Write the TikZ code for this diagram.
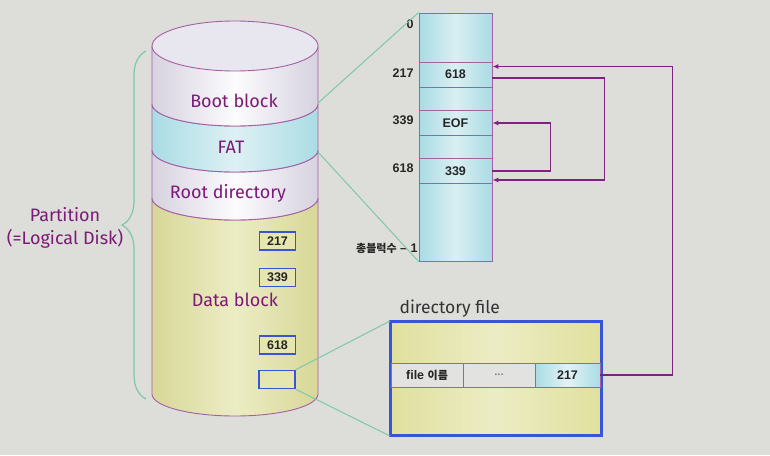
\documentclass[tikz,border=0pt]{standalone}
\usepackage{fontspec}
\setmainfont{Fira Sans}
\newfontfamily\numfont{Liberation Sans}
\newfontfamily\kofont{Noto Sans CJK KR Bold}
\usetikzlibrary{arrows.meta,decorations.pathreplacing}
\definecolor{bg}{RGB}{221,221,217}
\definecolor{rim}{RGB}{165,95,165}
\definecolor{ink}{RGB}{125,25,120}
\definecolor{linkc}{RGB}{125,35,125}
\definecolor{zoomc}{RGB}{125,200,175}
\definecolor{fatc}{RGB}{170,220,228}
\definecolor{datac}{RGB}{224,224,158}
\definecolor{bootc}{RGB}{214,210,224}
\definecolor{boxblue}{RGB}{55,85,215}
\definecolor{rowc}{RGB}{226,226,224}
\tikzset{
  lbl/.style   ={font=\fontsize{18}{23}\selectfont, text=ink, align=center},
  dlbl/.style  ={font=\fontsize{17.5}{20}\selectfont, text=black!80},
  num/.style   ={font=\numfont\bfseries\fontsize{12.5}{14}\selectfont, text=black!85},
  band/.style  ={draw=rim, line width=0.9pt},
  fatcol/.style={draw=rim, line width=0.9pt, minimum width=73pt, minimum height=248pt, inner sep=0pt,
                 left color=fatc, right color=fatc, middle color=fatc!45!white},
  fatrow/.style={draw=rim, line width=0.8pt, minimum width=73pt, minimum height=25pt, inner sep=0pt, num},
  dbox/.style  ={draw=boxblue, line width=1.6pt, fill=datac!80!white, minimum width=36pt, minimum height=18pt, inner sep=0pt, num},
  dirbox/.style={draw=boxblue, line width=2pt, minimum width=210pt, minimum height=113pt, inner sep=0pt,
                 left color=datac, right color=datac, middle color=datac!60!white},
  drow/.style  ={draw=rim, line width=0.8pt, fill=rowc, minimum height=24pt, inner sep=0pt, num},
  link/.style  ={draw=linkc, line width=1.6pt, -{Latex[length=6pt,width=5pt]}},
  zoomln/.style={draw=zoomc, line width=1pt},
}

\begin{document}
\begin{tikzpicture}[x=1pt, y=1pt]
  \useasboundingbox (0,0) rectangle (770,-455);
  \fill[bg] (0,0) rectangle (770,-455);

  % disk
  \path[band, left color=datac!96!black, right color=datac!96!black, middle color=datac!60!white]
    (152,-198) -- (152,-394) arc[start angle=180, end angle=360, x radius=83, y radius=22]
    -- (318,-198) arc[start angle=0, end angle=-180, x radius=83, y radius=22] -- cycle;
  \path[band, left color=bootc, right color=bootc, middle color=white!92!bootc]
    (152,-150) -- (152,-198) arc[start angle=180, end angle=360, x radius=83, y radius=22]
    -- (318,-150) arc[start angle=0, end angle=-180, x radius=83, y radius=22] -- cycle;
  \path[band, left color=fatc, right color=fatc, middle color=fatc!40!white]
    (152,-104) -- (152,-150) arc[start angle=180, end angle=360, x radius=83, y radius=22]
    -- (318,-104) arc[start angle=0, end angle=-180, x radius=83, y radius=22] -- cycle;
  \path[band, left color=bootc, right color=bootc, middle color=white!92!bootc]
    (152,-46) -- (152,-104) arc[start angle=180, end angle=360, x radius=83, y radius=22]
    -- (318,-46) arc[start angle=0, end angle=-180, x radius=83, y radius=22] -- cycle;
  \path[band, fill=bootc!55!white] (235,-46) ellipse [x radius=83, y radius=25];

  \node[lbl] (boot) at (234,-101) {Boot block};
  \node[lbl] (fatl) at (231,-147) {FAT};
  \node[lbl] (root) at (228,-193) {Root directory};
  \node[lbl] (data) at (235,-300) {Data block};

  \node[dbox] (b217) at (277.5,-241) {217};
  \node[dbox] (b339) at (277.5,-277.5) {339};
  \node[dbox] (b618) at (277.5,-345) {618};
  \node[dbox] (bnull) at (277,-379.5) {};

  \coordinate (fattop) at (318,-103);
  \coordinate (fatbot) at (318,-152);

  % partition brace
  \coordinate (ptop) at (146,-51);
  \coordinate (pbot) at (146,-399);
  \draw[zoomln, line width=1.2pt, decorate, decoration={brace, amplitude=24pt}] (pbot) -- (ptop);
  \node[lbl] (part) at (65,-228) {Partition\\(=Logical Disk)};

  % FAT table
  \node[fatcol] (fat) at (455.5,-137) {};
  \node[fatrow] (f217) at (455.5,-74.5) {618};
  \node[fatrow] (f339) at (455.5,-123) {EOF};
  \node[fatrow] (f618) at (455.5,-171) {339};

  \node[num, anchor=east] (n0) at (417,-24) {0};
  \node[num, anchor=east] (n217) at (417,-73) {217};
  \node[num, anchor=east] (n339) at (417,-120) {339};
  \node[num, anchor=east] (n618) at (417,-168) {618};
  \node[num, anchor=east] (nlast) at (421,-248) {{\kofont\fontsize{11}{13}\selectfont 총블럭수} – 1};

  \draw[zoomln] (fattop) -- (fat.north west);
  \draw[zoomln] (fatbot) -- (fat.south west);

  % directory file
  \node[dirbox] (dirf) at (496,-378.5) {};
  \node[dlbl, anchor=base west] (dirl) at (396,-313) {directory file};
  \node[drow, minimum width=72pt] (dname) at (427,-375) {file {\kofont\fontsize{11}{13}\selectfont 이름}};
  \node[drow, minimum width=72pt, font=\fontsize{13}{15}\selectfont, text=black!50] (ddots) at (499,-375) {...};
  \node[drow, minimum width=65pt, left color=fatc, right color=fatc, middle color=fatc!35!white] (d217) at (567.5,-375) {217};
  \draw[boxblue, line width=2pt] (dirf.north west) rectangle (dirf.south east);

  \draw[zoomln] (bnull.north east) -- (dirf.north west);
  \draw[zoomln] (bnull.south east) -- (dirf.south west);

  \draw[link] (d217.east) -- ++(72,0) |- ([yshift=8pt]f217.east);
  \draw[link] ([yshift=-3.5pt]f217.east) -- ++(112,0) |- ([yshift=-9pt]f618.east);
  \draw[link] (f618.east) -- ++(58,0) |- (f339.east);
\end{tikzpicture}
\end{document}
